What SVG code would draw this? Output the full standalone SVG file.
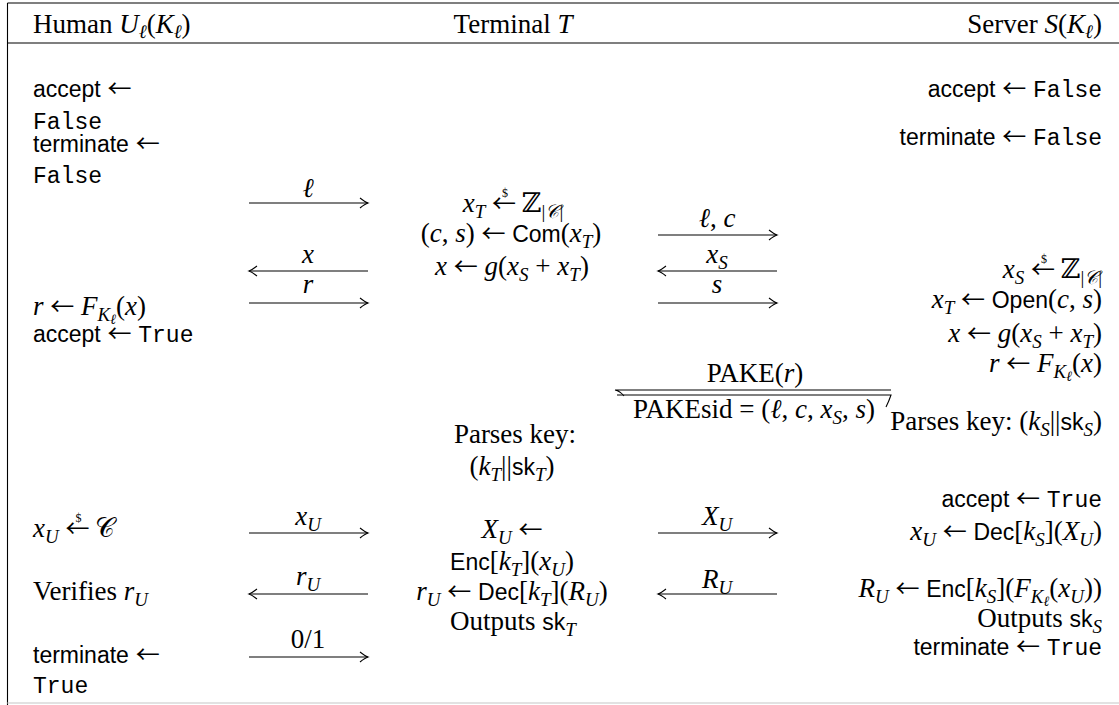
<svg xmlns="http://www.w3.org/2000/svg" width="1119" height="705" viewBox="0 0 1119 705">
<style>
.r{font-family:"Liberation Serif","DejaVu Serif",serif;font-size:27px;fill:#000}
.i{font-style:italic}
.sf{font-family:"Liberation Sans","DejaVu Sans",sans-serif;font-size:23px;font-style:normal}
.tt{font-family:"Liberation Mono","DejaVu Sans Mono",monospace;font-size:23px}
.ar{font-family:"Noto Sans CJK JP","DejaVu Sans",sans-serif;font-size:24px;font-style:normal;font-weight:normal}
.s{font-size:19px}
.ss{font-size:14px}
.d{font-size:12px;font-style:normal}
.m{text-anchor:middle}
.e{text-anchor:end}
.ln{stroke:#000;stroke-width:1.1;fill:none}
.msg{stroke:#000;stroke-width:1.1;fill:none;marker-end:url(#ah)}
</style>
<defs>
<marker id="ah" viewBox="-10 -6 12 12" refX="0" refY="0" markerWidth="12" markerHeight="12" orient="auto" markerUnits="userSpaceOnUse">
<path d="M-8,-5 Q-3,-1 0,0 Q-3,1 -8,5" fill="none" stroke="#000" stroke-width="1.1"/>
</marker>
</defs>
<rect width="1119" height="705" fill="#fff"/>
<g id="frame">
<line class="ln" x1="7.5" y1="3" x2="1119" y2="3"/>
<line class="ln" x1="7.5" y1="3" x2="7.5" y2="705"/>
<line class="ln" x1="7.5" y1="43" x2="1119" y2="43"/>
<line x1="7.5" y1="703" x2="1119" y2="703" stroke="#d8d8d8" stroke-width="1.5"/>
</g>
<g id="header">
<text class="r" x="33" y="33">Human <tspan class="i">U</tspan><tspan class="s i" dy="5">ℓ</tspan><tspan dy="-5">(</tspan><tspan class="i">K</tspan><tspan class="s i" dy="5">ℓ</tspan><tspan dy="-5">)</tspan></text>
<text class="r m" x="513" y="33">Terminal <tspan class="i">T</tspan></text>
<text class="r e" x="1102" y="33">Server <tspan class="i">S</tspan>(<tspan class="i">K</tspan><tspan class="s i" dy="5">ℓ</tspan><tspan dy="-5">)</tspan></text>
</g>
<g id="human">
<text class="r" x="33" y="97"><tspan class="sf">accept</tspan> <tspan class="ar">←</tspan></text>
<text class="tt" x="33" y="129">False</text>
<text class="r" x="33" y="152"><tspan class="sf">terminate</tspan> <tspan class="ar">←</tspan></text>
<text class="tt" x="33" y="183">False</text>
<text class="r" x="33" y="315"><tspan class="i">r</tspan> <tspan class="ar">←</tspan> <tspan class="i">F</tspan><tspan class="s i" dy="6">K</tspan><tspan class="ss i" dy="3">ℓ</tspan><tspan dy="-9">(</tspan><tspan class="i">x</tspan>)</text>
<text class="r" x="33" y="342"><tspan class="sf">accept</tspan> <tspan class="ar">←</tspan> <tspan class="tt">True</tspan></text>
<text class="r" x="33" y="537"><tspan class="i">x</tspan><tspan class="s i" dy="6">U</tspan><tspan dy="-6"> </tspan><tspan class="ar">←</tspan><tspan class="d" dx="-14" dy="-15">$</tspan><tspan dx="7" dy="15"> 𝒞</tspan></text>
<text class="r" x="33" y="600">Verifies <tspan class="i">r</tspan><tspan class="s i" dy="6">U</tspan></text>
<text class="r" x="33" y="663"><tspan class="sf">terminate</tspan> <tspan class="ar">←</tspan></text>
<text class="tt" x="33" y="693">True</text>
</g>
<g id="terminal">
<text class="r m" x="513" y="212"><tspan class="i">x</tspan><tspan class="s i" dy="6">T</tspan><tspan dy="-6"> </tspan><tspan class="ar">←</tspan><tspan class="d" dx="-14" dy="-15">$</tspan><tspan dx="7" dy="15"> ℤ</tspan><tspan class="s" dy="6">|</tspan><tspan class="s i">𝒞</tspan><tspan class="s">|</tspan></text>
<text class="r m" x="511" y="242">(<tspan class="i">c</tspan>, <tspan class="i">s</tspan>) <tspan class="ar">←</tspan> <tspan class="sf">Com</tspan>(<tspan class="i">x</tspan><tspan class="s i" dy="6">T</tspan><tspan dy="-6">)</tspan></text>
<text class="r m" x="512" y="275"><tspan class="i">x</tspan> <tspan class="ar">←</tspan> <tspan class="i">g</tspan>(<tspan class="i">x</tspan><tspan class="s i" dy="6">S</tspan><tspan dy="-6"> + </tspan><tspan class="i">x</tspan><tspan class="s i" dy="6">T</tspan><tspan dy="-6">)</tspan></text>
<text class="r m" x="515" y="443">Parses key:</text>
<text class="r m" x="512" y="475">(<tspan class="i">k</tspan><tspan class="s i" dy="6">T</tspan><tspan dy="-6">||</tspan><tspan class="sf">sk</tspan><tspan class="s i" dy="6">T</tspan><tspan dy="-6">)</tspan></text>
<text class="r m" x="512" y="538"><tspan class="i">X</tspan><tspan class="s i" dy="6">U</tspan><tspan dy="-6"> </tspan><tspan class="ar">←</tspan></text>
<text class="r m" x="512" y="570"><tspan class="sf">Enc</tspan>[<tspan class="i">k</tspan><tspan class="s i" dy="6">T</tspan><tspan dy="-6">](</tspan><tspan class="i">x</tspan><tspan class="s i" dy="6">U</tspan><tspan dy="-6">)</tspan></text>
<text class="r m" x="512" y="600"><tspan class="i">r</tspan><tspan class="s i" dy="6">U</tspan><tspan dy="-6"> </tspan><tspan class="ar">←</tspan> <tspan class="sf">Dec</tspan>[<tspan class="i">k</tspan><tspan class="s i" dy="6">T</tspan><tspan dy="-6">](</tspan><tspan class="i">R</tspan><tspan class="s i" dy="6">U</tspan><tspan dy="-6">)</tspan></text>
<text class="r m" x="513" y="630">Outputs <tspan class="sf">sk</tspan><tspan class="s i" dy="6">T</tspan></text>
</g>
<g id="server">
<text class="r e" x="1102" y="97"><tspan class="sf">accept</tspan> <tspan class="ar">←</tspan> <tspan class="tt">False</tspan></text>
<text class="r e" x="1102" y="145"><tspan class="sf">terminate</tspan> <tspan class="ar">←</tspan> <tspan class="tt">False</tspan></text>
<text class="r e" x="1102" y="278"><tspan class="i">x</tspan><tspan class="s i" dy="6">S</tspan><tspan dy="-6"> </tspan><tspan class="ar">←</tspan><tspan class="d" dx="-14" dy="-15">$</tspan><tspan dx="7" dy="15"> ℤ</tspan><tspan class="s" dy="6">|</tspan><tspan class="s i">𝒞</tspan><tspan class="s">|</tspan></text>
<text class="r e" x="1102" y="308"><tspan class="i">x</tspan><tspan class="s i" dy="6">T</tspan><tspan dy="-6"> </tspan><tspan class="ar">←</tspan> <tspan class="sf">Open</tspan>(<tspan class="i">c</tspan>, <tspan class="i">s</tspan>)</text>
<text class="r e" x="1102" y="342"><tspan class="i">x</tspan> <tspan class="ar">←</tspan> <tspan class="i">g</tspan>(<tspan class="i">x</tspan><tspan class="s i" dy="6">S</tspan><tspan dy="-6"> + </tspan><tspan class="i">x</tspan><tspan class="s i" dy="6">T</tspan><tspan dy="-6">)</tspan></text>
<text class="r e" x="1102" y="372"><tspan class="i">r</tspan> <tspan class="ar">←</tspan> <tspan class="i">F</tspan><tspan class="s i" dy="6">K</tspan><tspan class="ss i" dy="3">ℓ</tspan><tspan dy="-9">(</tspan><tspan class="i">x</tspan>)</text>
<text class="r e" x="1102" y="430">Parses key: (<tspan class="i">k</tspan><tspan class="s i" dy="6">S</tspan><tspan dy="-6">||</tspan><tspan class="sf">sk</tspan><tspan class="s i" dy="6">S</tspan><tspan dy="-6">)</tspan></text>
<text class="r e" x="1102" y="507"><tspan class="sf">accept</tspan> <tspan class="ar">←</tspan> <tspan class="tt">True</tspan></text>
<text class="r e" x="1102" y="540"><tspan class="i">x</tspan><tspan class="s i" dy="6">U</tspan><tspan dy="-6"> </tspan><tspan class="ar">←</tspan> <tspan class="sf">Dec</tspan>[<tspan class="i">k</tspan><tspan class="s i" dy="6">S</tspan><tspan dy="-6">](</tspan><tspan class="i">X</tspan><tspan class="s i" dy="6">U</tspan><tspan dy="-6">)</tspan></text>
<text class="r e" x="1102" y="597"><tspan class="i">R</tspan><tspan class="s i" dy="6">U</tspan><tspan dy="-6"> </tspan><tspan class="ar">←</tspan> <tspan class="sf">Enc</tspan>[<tspan class="i">k</tspan><tspan class="s i" dy="6">S</tspan><tspan dy="-6">](</tspan><tspan class="i">F</tspan><tspan class="s i" dy="6">K</tspan><tspan class="ss i" dy="3">ℓ</tspan><tspan dy="-9">(</tspan><tspan class="i">x</tspan><tspan class="s i" dy="6">U</tspan><tspan dy="-6">))</tspan></text>
<text class="r e" x="1102" y="627">Outputs <tspan class="sf">sk</tspan><tspan class="s i" dy="6">S</tspan></text>
<text class="r e" x="1102" y="655"><tspan class="sf">terminate</tspan> <tspan class="ar">←</tspan> <tspan class="tt">True</tspan></text>
</g>
<g id="connectors">
<line class="msg" x1="249" y1="203" x2="368" y2="203"/>
<text class="r m i" x="308" y="197">ℓ</text>
<line class="msg" x1="368" y1="271" x2="249" y2="271"/>
<text class="r m i" x="308" y="263">x</text>
<line class="msg" x1="249" y1="303" x2="368" y2="303"/>
<text class="r m i" x="308" y="293">r</text>
<line class="msg" x1="249" y1="533" x2="368" y2="533"/>
<text class="r m" x="308" y="525"><tspan class="i">x</tspan><tspan class="s i" dy="6">U</tspan></text>
<line class="msg" x1="368" y1="594" x2="249" y2="594"/>
<text class="r m" x="308" y="585"><tspan class="i">r</tspan><tspan class="s i" dy="6">U</tspan></text>
<line class="msg" x1="249" y1="657" x2="368" y2="657"/>
<text class="r m" x="308" y="648">0/1</text>
<line class="msg" x1="658" y1="235" x2="777" y2="235"/>
<text class="r m" x="717" y="227"><tspan class="i">ℓ</tspan>, <tspan class="i">c</tspan></text>
<line class="msg" x1="777" y1="271" x2="658" y2="271"/>
<text class="r m" x="717" y="263"><tspan class="i">x</tspan><tspan class="s i" dy="6">S</tspan></text>
<line class="msg" x1="658" y1="303" x2="777" y2="303"/>
<text class="r m i" x="717" y="293">s</text>
<line class="msg" x1="658" y1="533" x2="777" y2="533"/>
<text class="r m" x="717" y="525"><tspan class="i">X</tspan><tspan class="s i" dy="6">U</tspan></text>
<line class="msg" x1="777" y1="594" x2="658" y2="594"/>
<text class="r m" x="717" y="588"><tspan class="i">R</tspan><tspan class="s i" dy="6">U</tspan></text>
<path class="ln" d="M891,390 L615,390 Q620,391 624,396"/>
<path class="ln" d="M617,395 L891,395 Q889,401 886,407"/>
<text class="r m" x="755" y="382">PAKE(<tspan class="i">r</tspan>)</text>
<text class="r m" x="754" y="418">PAKEsid = (<tspan class="i">ℓ</tspan>, <tspan class="i">c</tspan>, <tspan class="i">x</tspan><tspan class="s i" dy="6">S</tspan><tspan dy="-6">, </tspan><tspan class="i">s</tspan>)</text>
</g>
</svg>
